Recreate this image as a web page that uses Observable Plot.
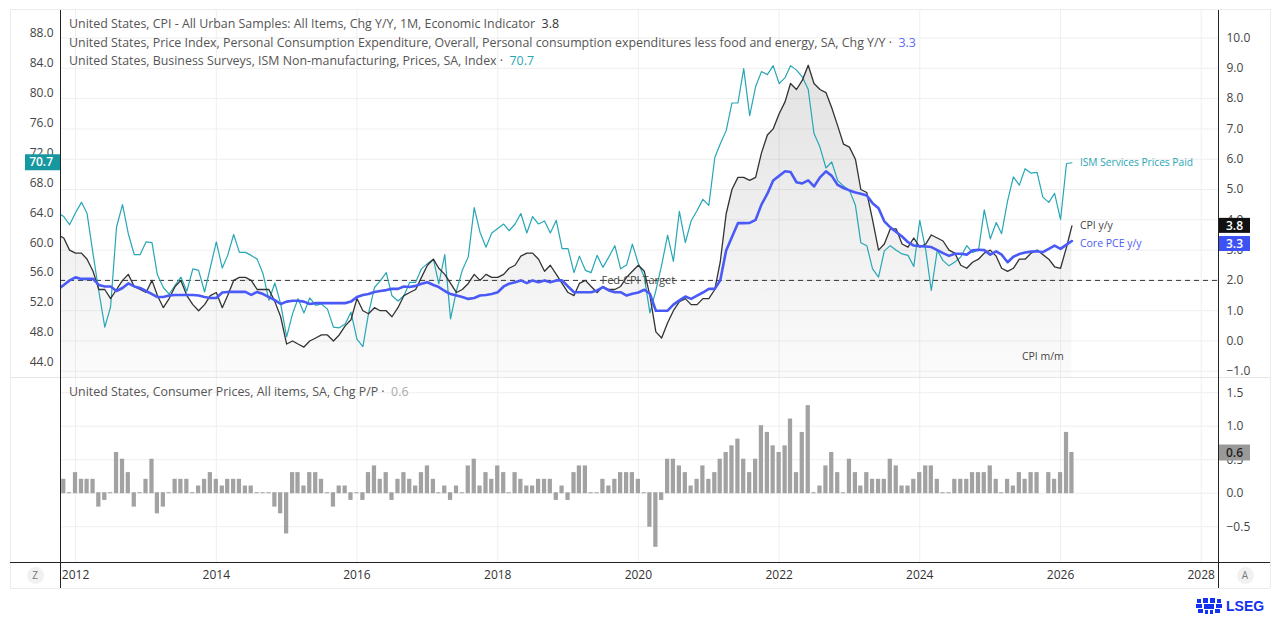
<!DOCTYPE html>
<html lang="en">
<head>
<meta charset="utf-8">
<title>US inflation gauges</title>
<script src="https://cdn.jsdelivr.net/npm/d3@7"></script>
<script src="https://cdn.jsdelivr.net/npm/@observablehq/plot@0.6"></script>
<style>
  html, body { margin: 0; padding: 0; background: #fff; }
  #chart { position: relative; width: 1280px; height: 619px; overflow: hidden;
           font-family: "Open Sans", "Liberation Sans", sans-serif; }
  #chart > svg { position: absolute; left: 0; top: 0; }
  .legend { position: absolute; left: 69px; font-size: 12.4px; line-height: 16px; color: #555; white-space: pre; }
  .line { position: absolute; }
  .pill { position: absolute; width: 17px; height: 17px; border-radius: 50%; background: #f1f1f1;
          color: #7a7a7a; font-size: 10px; line-height: 17px; text-align: center; }
  .brand { position: absolute; left: 1196px; top: 597px; height: 18px; display: flex; align-items: center; gap: 4px;
           color: #1430f0; font-weight: 700; font-size: 14px; font-family: "Liberation Sans", sans-serif; }
</style>
</head>
<body>
<div id="chart"></div>
<script>
// ---- Monthly observations, October 2011 through March 2026 (null = not published) ----
const firstYear = 2011, firstMonthIndex = 9; // October 2011

// US CPI, all items, % change y/y
const cpiYoY = [
  3.5, 3.4, 3.0,
  2.9, 2.9, 2.7, 2.3, 1.7, 1.7, 1.4, 1.7, 2.0, 2.2, 1.8, 1.7,
  1.6, 2.0, 1.5, 1.1, 1.4, 1.8, 2.0, 1.5, 1.2, 1.0, 1.2, 1.5,
  1.6, 1.1, 1.5, 2.0, 2.1, 2.1, 2.0, 1.7, 1.7, 1.7, 1.3, 0.8,
  -0.1, 0.0, -0.1, -0.2, 0.0, 0.1, 0.2, 0.2, 0.0, 0.2, 0.5, 0.7,
  1.4, 1.0, 0.9, 1.1, 1.0, 1.0, 0.8, 1.1, 1.5, 1.6, 1.7, 2.1,
  2.5, 2.7, 2.4, 2.2, 1.9, 1.6, 1.7, 1.9, 2.2, 2.0, 2.2, 2.1,
  2.1, 2.2, 2.4, 2.5, 2.8, 2.9, 2.9, 2.7, 2.3, 2.5, 2.2, 1.9,
  1.6, 1.5, 1.9, 2.0, 1.8, 1.6, 1.8, 1.7, 1.7, 1.8, 2.1, 2.3,
  2.5, 2.3, 1.5, 0.3, 0.1, 0.6, 1.0, 1.3, 1.4, 1.2, 1.2, 1.4,
  1.4, 1.7, 2.6, 4.2, 5.0, 5.4, 5.4, 5.3, 5.4, 6.2, 6.8, 7.0,
  7.5, 7.9, 8.5, 8.3, 8.6, 9.1, 8.5, 8.3, 8.2, 7.7, 7.1, 6.5,
  6.4, 6.0, 5.0, 4.9, 4.0, 3.0, 3.2, 3.7, 3.7, 3.2, 3.1, 3.4,
  3.1, 3.2, 3.5, 3.4, 3.3, 3.0, 2.9, 2.5, 2.4, 2.6, 2.7, 2.9,
  3.0, 2.8, 2.4, 2.3, 2.4, 2.7, 2.7, 2.9, 3.0, null, 2.7, 2.45,
  2.4, 3.1, 3.8
];

// Core PCE price index, % change y/y
const corePceYoY = [
  1.7, 1.85, 2.0,
  2.1, 2.05, 2.05, 2.05, 1.85, 1.8, 1.8, 1.65, 1.75, 1.9, 1.8, 1.75,
  1.65, 1.55, 1.45, 1.45, 1.5, 1.52, 1.52, 1.52, 1.52, 1.5, 1.45, 1.42,
  1.42, 1.6, 1.62, 1.62, 1.62, 1.62, 1.52, 1.62, 1.55, 1.45, 1.35, 1.22,
  1.3, 1.33, 1.33, 1.3, 1.22, 1.25, 1.25, 1.25, 1.25, 1.25, 1.25, 1.3,
  1.45, 1.52, 1.55, 1.62, 1.65, 1.68, 1.72, 1.72, 1.8, 1.78, 1.82, 1.89,
  1.94, 1.85, 1.78, 1.65, 1.55, 1.5, 1.45, 1.39, 1.42, 1.5, 1.52, 1.55,
  1.61, 1.8, 1.89, 1.94, 2.0, 1.91, 2.0, 1.94, 2.0, 1.94, 2.0, 2.0,
  1.8, 1.61, 1.61, 1.61, 1.61, 1.67, 1.78, 1.67, 1.61, 1.61, 1.5, 1.56,
  1.6, 1.69, 1.56, 1.0, 1.0, 1.0, 1.2, 1.34, 1.47, 1.39, 1.5, 1.6,
  1.72, 1.72, 2.0, 2.99, 3.43, 3.89, 3.89, 3.9, 4.0, 4.5, 4.86, 5.3,
  5.45, 5.6, 5.58, 5.24, 5.2, 5.3, 5.1, 5.4, 5.6, 5.45, 5.15, 5.05,
  4.97, 4.9, 4.86, 4.8, 4.55, 4.38, 3.95, 3.75, 3.6, 3.45, 3.26, 3.15,
  3.13, 3.12, 3.1, 3.0, 2.9, 2.81, 2.88, 2.88, 2.85, 2.99, 3.01, 3.0,
  2.85, 2.96, 2.85, 2.6, 2.78, 2.87, 2.92, 2.95, 2.96, 2.93, 3.04, 3.15,
  3.04, 3.18, 3.3
];

// ISM services (non-manufacturing) prices index
const ismPrices = [
  64.0, 63.5, 62.4,
  64.0, 65.4, 63.9, 58.5, 53.5, 48.7, 51.4, 62.1, 65.1, 61.2, 58.4, 58.4,
  60.1, 60.0, 55.7, 54.0, 53.1, 54.3, 55.4, 53.5, 56.5, 56.3, 53.4, 56.7,
  60.1, 56.6, 58.3, 61.1, 58.7, 58.7, 58.3, 57.8, 55.8, 52.3, 54.6, 51.8,
  47.4, 50.5, 52.5, 50.6, 52.6, 51.6, 51.8, 51.1, 48.7, 48.6, 49.1, 50.7,
  47.1, 46.1, 50.5, 54.0, 54.9, 56.0, 52.9, 52.2, 52.9, 54.7, 54.7, 56.5,
  57.2, 57.8, 54.5, 58.4, 49.8, 53.6, 56.3, 58.1, 64.7, 61.4, 59.4, 61.3,
  61.9, 62.5, 61.6, 62.5, 63.9, 61.3, 63.5, 62.5, 62.9, 61.3, 63.0, 59.2,
  59.2, 56.0, 58.2, 56.3, 56.0, 58.3, 56.7, 58.1, 59.6, 56.5, 57.0, 59.8,
  57.2, 55.4, 50.6, 53.6, 57.0, 61.0, 57.5, 64.2, 60.0, 62.9, 64.3, 65.8,
  65.0, 71.4, 73.2, 75.0, 78.7, 78.7, 83.3, 77.0, 80.9, 82.9, 82.5, 83.7,
  81.3, 82.1, 83.7, 83.1, 82.2, 80.5, 74.6, 72.8, 70.0, 70.8, 68.3, 67.6,
  67.0, 65.0, 60.0, 59.6, 56.5, 55.4, 58.9, 59.6, 59.0, 58.5, 58.3, 56.8,
  63.0, 59.0, 53.6, 59.0, 57.6, 56.9, 57.4, 58.1, 59.6, 58.7, 59.0, 64.4,
  60.5, 62.7, 61.2, 65.6, 68.8, 67.7, 69.9, 69.3, 69.4, 66.1, 65.4, 66.6,
  63.1, 70.6, 70.7
];

// US CPI, all items, SA, % change m/m
const cpiMoM = [
  0.0, 0.2, 0.0,
  0.3, 0.2, 0.2, 0.2, -0.2, -0.1, 0.0, 0.6, 0.5, 0.3, -0.2, 0.0,
  0.2, 0.5, -0.3, -0.2, 0.0, 0.2, 0.2, 0.2, 0.0, 0.1, 0.2, 0.3,
  0.2, 0.1, 0.2, 0.2, 0.2, 0.1, 0.1, 0.0, 0.0, 0.0, -0.2, -0.3,
  -0.6, 0.3, 0.3, 0.1, 0.3, 0.3, 0.2, 0.0, -0.2, 0.1, 0.1, -0.1,
  0.0, -0.1, 0.3, 0.4, 0.2, 0.3, -0.1, 0.2, 0.3, 0.2, 0.1, 0.3,
  0.4, 0.2, 0.0, 0.1, -0.1, 0.1, 0.0, 0.4, 0.5, 0.1, 0.3, 0.2,
  0.4, 0.3, 0.0, 0.3, 0.2, 0.1, 0.1, 0.2, 0.2, 0.2, -0.1, 0.1,
  -0.1, 0.3, 0.4, 0.4, 0.0, 0.0, 0.2, 0.1, 0.2, 0.3, 0.3, 0.3,
  0.2, 0.0, -0.5, -0.8, -0.1, 0.5, 0.5, 0.4, 0.3, 0.1, 0.2, 0.4,
  0.2, 0.3, 0.5, 0.6, 0.7, 0.8, 0.5, 0.3, 0.5, 1.0, 0.9, 0.7,
  0.6, 0.7, 1.1, 0.3, 0.9, 1.3, 0.0, 0.1, 0.4, 0.6, 0.3, 0.0,
  0.5, 0.3, 0.1, 0.3, 0.2, 0.2, 0.2, 0.5, 0.4, 0.1, 0.1, 0.2,
  0.3, 0.4, 0.4, 0.2, 0.0, 0.0, 0.2, 0.2, 0.2, 0.3, 0.3, 0.3,
  0.4, 0.2, 0.0, 0.2, 0.1, 0.3, 0.2, 0.3, 0.3, null, 0.3, 0.2,
  0.3, 0.9, 0.6
];

// ---- Axis ticks and reference levels ----
const cpiTicks = d3.range(-1, 11);          // right axis, upper pane (% y/y)
const ismTicks = d3.range(44, 92, 4);       // left axis, upper pane (index)
const momTicks = [-0.5, 0, 0.5, 1, 1.5];    // right axis, lower pane (% m/m)
const tickYears = d3.range(2012, 2029, 2);
const fedTarget = 2.0;
const fedLabelMonth = [2020, 0];
const momLabel = {month: [2025, 9], level: -0.5};

// Series names shown in the pane legends
const legendCpi = "United States, CPI - All Urban Samples: All Items, Chg Y/Y, 1M, Economic Indicator";
const legendPce = "United States, Price Index, Personal Consumption Expenditure, Overall, Personal consumption expenditures less food and energy, SA, Chg Y/Y";
const legendIsm = "United States, Business Surveys, ISM Non-manufacturing, Prices, SA, Index";
const legendMom = "United States, Consumer Prices, All items, SA, Chg P/P";

// ---- Colours ----
const INK = "#444", CPI_LINE = "#333", BLUE = "#4a5af6", BLUE_BADGE = "#3d52f5", BLUE_TEXT = "#5d6cf4";
const TEAL = "#27a6b5", TEAL_BADGE = "#17979f", BAR = "#a2a2a2", GRID = "#efefef";

// ---- Rows ----
const monthDate = (y, m) => new Date(Date.UTC(y, m, 1));
const rows = cpiYoY.map((cpi, i) => ({
  date: monthDate(firstYear, firstMonthIndex + i),
  cpi, pce: corePceYoY[i], ism: ismPrices[i], mom: cpiMoM[i]
}));
const cpiRows = rows.filter(d => d.cpi != null);
const pceRows = rows.filter(d => d.pce != null);
const ismRows = rows.filter(d => d.ism != null);
const momRows = rows.filter(d => d.mom != null);
const lastCpi = cpiRows.at(-1), lastPce = pceRows.at(-1), lastIsm = ismRows.at(-1), lastMom = momRows.at(-1);
const yearTicks = tickYears.map(y => monthDate(y, 0));

// ---- Layout ----
const W = 1280, H = 619;
const paneLeft = 60, paneRight = 1218, paneTop = 10, paneSplit = 378, paneBottom = 562;
const upper = {width: W, height: H, marginLeft: paneLeft, marginRight: W - paneRight, marginTop: paneTop, marginBottom: H - paneSplit};
const lower = {width: W, height: H, marginLeft: paneLeft, marginRight: W - paneRight, marginTop: paneSplit, marginBottom: H - paneBottom};
const xScale = {type: "utc", domain: [new Date(Date.UTC(2011, 9, 15)), new Date(Date.UTC(2028, 2, 31))], axis: null};
const cpiDomain = [-1.2376, 10.908];
const ismDomain = [41.82, 91.08];
const momDomain = [-1.034, 1.712];
const fmt1 = d3.format(".1f");
const font = '"Open Sans", "Liberation Sans", sans-serif';
const style = {background: "transparent", color: INK, fontFamily: font, fontSize: "12px", overflow: "visible"};

const svgNS = "http://www.w3.org/2000/svg";
function el(tag, attrs = {}) {
  const e = document.createElementNS(svgNS, tag);
  for (const k in attrs) e.setAttribute(k, attrs[k]);
  return e;
}

// Vertical shading under the CPI line, fading towards the pane floor
function cpiShade(index, scales, values, dim) {
  const defs = el("defs");
  const g = el("linearGradient", {id: "cpiShade", gradientUnits: "userSpaceOnUse", x1: 0, x2: 0,
    y1: dim.marginTop, y2: dim.height - dim.marginBottom});
  g.append(el("stop", {offset: 0, "stop-color": "#000", "stop-opacity": 0.13}));
  g.append(el("stop", {offset: 1, "stop-color": "#000", "stop-opacity": 0.015}));
  defs.append(g);
  return defs;
}

// Last-value tag on an axis
function badge(value, {side, fill, ink = "#fff", w, h = 15, shift = 0}) {
  return (index, scales, values, dim) => {
    const cy = scales.y(value) + shift;
    const right = side === "right";
    const edge = right ? dim.width - dim.marginRight : dim.marginLeft;
    const g = el("g", {"font-weight": 600, "font-size": 12, "font-family": font});
    g.append(el("rect", {x: right ? edge + 1 : edge - w, y: cy - h / 2, width: w, height: h, fill}));
    const t = el("text", {x: right ? edge + 8 : edge - 7, y: cy, dy: "0.35em", fill: ink, "text-anchor": right ? "start" : "end"});
    t.textContent = fmt1(value);
    g.append(t);
    return g;
  };
}

// Layer 1: grid, CPI shading, target line, right axis
const base = Plot.plot({
  ...upper, style: {...style, background: "#fff"},
  x: xScale, y: {domain: cpiDomain, axis: null},
  marks: [
    cpiShade,
    Plot.gridY(cpiTicks, {stroke: GRID, strokeOpacity: 1}),
    Plot.gridX(yearTicks, {stroke: GRID, strokeOpacity: 1}),
    Plot.areaY(cpiRows, {x: "date", y1: () => cpiDomain[0], y2: "cpi", fill: "url(#cpiShade)", clip: true}),
    Plot.ruleY([fedTarget], {stroke: "#333", strokeDasharray: "5,4"}),
    Plot.axisY(cpiTicks, {anchor: "right", tickSize: 0, tickPadding: 8, tickFormat: fmt1, label: null, fill: INK})
  ]
});

// Layer 2: ISM prices on the left axis
const ismLayer = Plot.plot({
  ...upper, style,
  x: xScale, y: {domain: ismDomain, axis: null},
  marks: [
    Plot.line(ismRows, {x: "date", y: "ism", stroke: TEAL, strokeWidth: 1.2, clip: true}),
    Plot.axisY(ismTicks, {anchor: "left", tickSize: 0, tickPadding: 7, tickFormat: fmt1, label: null, fill: INK}),
    Plot.text([lastIsm], {x: "date", y: "ism", text: () => "ISM Services Prices Paid", dx: 8, textAnchor: "start", fill: TEAL, fontSize: 10.2}),
    badge(lastIsm.ism, {side: "left", fill: TEAL_BADGE, w: 35, h: 16})
  ]
});

// Layer 3: CPI and core PCE lines with their annotations
const lineLayer = Plot.plot({
  ...upper, style,
  x: xScale, y: {domain: cpiDomain, axis: null},
  marks: [
    Plot.line(cpiRows, {x: "date", y: "cpi", stroke: CPI_LINE, strokeWidth: 1.3, clip: true}),
    Plot.line(pceRows, {x: "date", y: "pce", stroke: BLUE, strokeWidth: 2.6, clip: true}),
    Plot.text([{date: monthDate(...fedLabelMonth), v: fedTarget}], {x: "date", y: "v", text: () => "Fed CPI Target", fill: INK, fontSize: 11}),
    Plot.text([lastCpi], {x: "date", y: "cpi", text: () => "CPI y/y", dx: 8, textAnchor: "start", fill: INK, fontSize: 10.5}),
    Plot.text([lastPce], {x: "date", y: "pce", text: () => "Core PCE y/y", dx: 8, dy: 3, textAnchor: "start", fill: BLUE, fontSize: 10.5}),
    Plot.text([{date: monthDate(...momLabel.month), v: momLabel.level}], {x: "date", y: "v", text: () => "CPI m/m", fill: INK, fontSize: 10.5}),
    badge(lastCpi.cpi, {side: "right", fill: "#111", w: 31}),
    badge(lastPce.pce, {side: "right", fill: BLUE_BADGE, w: 31, shift: 3})
  ]
});

// Layer 4: monthly CPI change bars and the shared time axis
const barLayer = Plot.plot({
  ...lower, style,
  x: xScale, y: {domain: momDomain, axis: null},
  marks: [
    Plot.gridY(momTicks, {stroke: GRID, strokeOpacity: 1}),
    Plot.gridX(yearTicks, {stroke: GRID, strokeOpacity: 1}),
    Plot.rectY(momRows, {
      x1: d => d3.utcDay.offset(d.date, -11), x2: d => d3.utcDay.offset(d.date, 11),
      y: "mom", fill: BAR, insetTop: -0.5, insetBottom: -0.5, clip: true
    }),
    Plot.axisY(momTicks, {anchor: "right", tickSize: 0, tickPadding: 8, tickFormat: fmt1, label: null, fill: INK}),
    Plot.axisX(yearTicks, {anchor: "bottom", tickSize: 0, tickPadding: 8, tickFormat: "%Y", label: null, fill: "#333"}),
    badge(lastMom.mom, {side: "right", fill: "#999", ink: "#222", w: 31, h: 16})
  ]
});

const chart = document.getElementById("chart");
chart.append(base, ismLayer, lineLayer, barLayer);

// Frame, pane divider and axis rules
function rule(left, top, width, height, color) {
  const d = document.createElement("div");
  d.className = "line";
  Object.assign(d.style, {left: left + "px", top: top + "px", width: width + "px", height: height + "px", background: color});
  chart.append(d);
}
const frameL = 10, frameR = 1270, frameB = 588;
rule(frameL, paneTop - 1, frameR - frameL, 1, "#ececec");
rule(frameL, frameB, frameR - frameL, 1, "#ececec");
rule(frameL, paneTop - 1, 1, frameB - paneTop + 1, "#ececec");
rule(frameR, paneTop - 1, 1, frameB - paneTop + 1, "#ececec");
rule(frameL, paneSplit - 1, frameR - frameL, 1, "#e6e6e6");
rule(frameL, paneBottom, frameR - frameL, 1, "#222");
rule(paneLeft, paneTop, 1, frameB - paneTop, "#222");
rule(paneRight, paneTop, 1, frameB - paneTop, "#222");

// Pane legends
function legend(top, name, value, color, sep) {
  const d = document.createElement("div");
  d.className = "legend";
  d.style.top = top + "px";
  d.textContent = name + sep;
  const v = document.createElement("span");
  v.style.color = color;
  v.textContent = fmt1(value);
  d.append(v);
  chart.append(d);
}
legend(16.4, legendCpi, lastCpi.cpi, "#333", "  ");
legend(34.8, legendPce, lastPce.pce, BLUE_TEXT, " ·  ");
legend(53.2, legendIsm, lastIsm.ism, TEAL, " ·  ");
legend(384.4, legendMom, lastMom.mom, "#aaa", " ·  ");

// Corner buttons and brand mark
function pill(cx, cy, letter) {
  const d = document.createElement("div");
  d.className = "pill";
  d.style.left = (cx - 8.5) + "px";
  d.style.top = (cy - 8.5) + "px";
  d.textContent = letter;
  chart.append(d);
}
pill(35, 575, "Z");
pill(1245, 575, "A");

const brand = document.createElement("div");
brand.className = "brand";
brand.innerHTML = `<svg width="26" height="16" viewBox="0 0 26 16">
  <g fill="#1430f0">
    <rect x="1" y="1" width="4" height="4"/><rect x="7" y="0" width="5" height="5"/><rect x="14" y="0" width="5" height="5"/><rect x="21" y="1" width="4" height="4"/>
    <rect x="0" y="6" width="6" height="4"/><rect x="8" y="6" width="10" height="5"/><rect x="20" y="6" width="6" height="4"/>
    <rect x="2" y="11" width="5" height="4"/><rect x="9" y="12" width="3" height="4"/><rect x="14" y="12" width="3" height="4"/><rect x="19" y="11" width="5" height="4"/>
  </g></svg><span>LSEG</span>`;
chart.append(brand);
</script>
</body>
</html>
